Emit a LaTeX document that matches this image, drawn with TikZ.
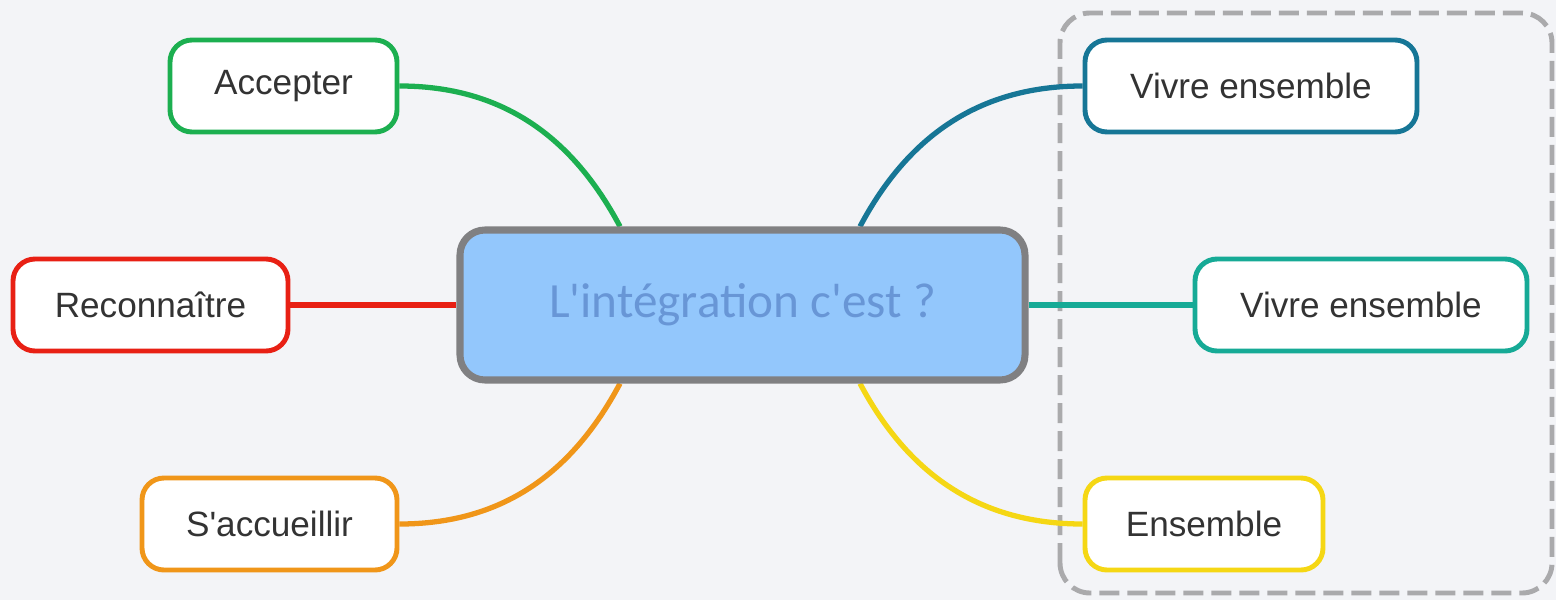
\documentclass[tikz,border=0pt]{standalone}
\usepackage{fontspec}
\setmainfont{Liberation Sans}
\newfontfamily\hubfont{Carlito}
\usetikzlibrary{positioning,backgrounds}
\pgfdeclarelayer{background layer}
\pgfsetlayers{background layer,main}

\definecolor{paper}{RGB}{243,244,247}
\definecolor{hubfill}{RGB}{147,199,252}
\definecolor{hubtext}{RGB}{104,150,214}
\definecolor{hubline}{RGB}{128,128,130}
\definecolor{boxline}{RGB}{170,170,172}
\definecolor{colacc}{RGB}{28,175,80}
\definecolor{colrec}{RGB}{232,32,20}
\definecolor{colsac}{RGB}{240,150,25}
\definecolor{colviv}{RGB}{22,118,150}
\definecolor{colmid}{RGB}{22,170,150}
\definecolor{colens}{RGB}{245,215,20}

\tikzset{
	hub/.style={draw=hubline,line width=2pt,rounded corners=2.5mm,fill=hubfill,text=hubtext,
		minimum width=5.65cm,minimum height=1.5cm,font=\hubfont\fontsize{14}{16}\selectfont},
	leaf/.style={draw=#1,line width=1.4pt,rounded corners=2.2mm,fill=white,text=black!80,
		minimum height=9.2mm,inner sep=0pt,font=\fontsize{10}{12}\selectfont},
	twig/.style={draw=#1,line width=1.5pt}
}

\begin{document}
\begin{tikzpicture}
\node[hub] (hub) at (7.425,2.95) {L'intégration c'est ?};
\foreach \nm/\x/\y/\w/\col/\txt in {acc/2.835/5.14/2.27/colacc/Accepter,
		rec/1.505/2.95/2.75/colrec/Reconnaître,
		sac/2.695/0.76/2.55/colsac/S\textquotesingle accueillir,
		viv/12.51/5.14/3.32/colviv/Vivre ensemble,
		mid/13.61/2.95/3.32/colmid/Vivre ensemble,
		ens/12.04/0.76/2.38/colens/Ensemble}
	\node[leaf=\col,minimum width=\w cm] (\nm) at (\x,\y) {\txt};
\begin{pgfonlayer}{background layer}
\fill[paper] (0,0) rectangle (15.56,6);
\draw[boxline,line width=1.4pt,dash pattern=on 2mm off 0.8mm,rounded corners=3mm] (10.60,0.07) rectangle (15.52,5.87);
% left branches
\draw[twig=colacc] (acc.east) to[out=0,in=118] ([xshift=-12.25mm]hub.north);
\draw[twig=colrec] (rec) -- (hub);
\draw[twig=colsac] (sac.east) to[out=0,in=-118] ([xshift=-12.25mm]hub.south);
% right branches
\draw[twig=colviv] ([xshift=11.75mm]hub.north) to[out=62,in=180] (viv.west);
\draw[twig=colmid] (hub) -- (mid);
\draw[twig=colens] ([xshift=11.75mm]hub.south) to[out=-62,in=180] (ens.west);
\end{pgfonlayer}
\end{tikzpicture}
\end{document}
